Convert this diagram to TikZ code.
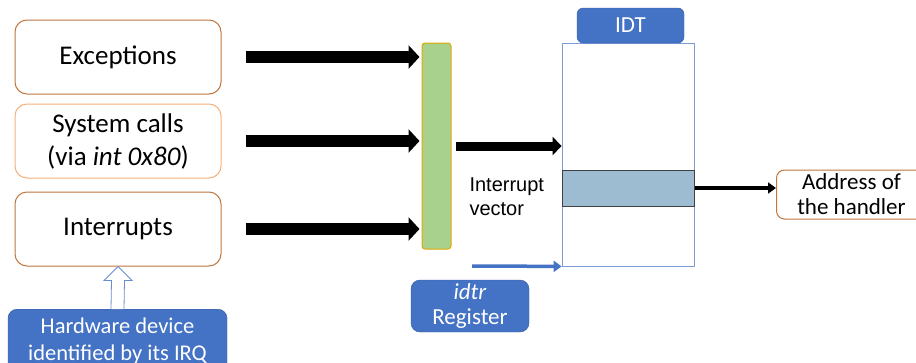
\documentclass[tikz,border=0pt]{standalone}
\usepackage{fontspec}
\setmainfont{Carlito}
\newfontfamily\arialfont{Liberation Sans}
\usetikzlibrary{arrows.meta,calc}

\definecolor{darkorange}{HTML}{C0763F}
\definecolor{lightorange}{HTML}{F6B07A}
\definecolor{boxblue}{HTML}{4472C4}
\definecolor{barfill}{HTML}{A9D18E}
\definecolor{bargold}{HTML}{E2A800}
\definecolor{rowfill}{HTML}{9DBBD1}

\tikzset{
  srcbox/.style={draw=darkorange, line width=1pt, rounded corners=12pt, fill=white,
    minimum width=206pt, minimum height=74pt, align=center, font=\fontsize{27}{33}\selectfont},
  bluebox/.style={draw=boxblue!80!black, fill=boxblue, text=white, rounded corners=9pt,
    align=center, inner sep=0pt},
  fatarrow/.style={line width=12pt, -{Triangle[length=11pt,width=23pt]}},
  midarrow/.style={line width=9pt, -{Triangle[length=9pt,width=18pt]}},
  thinarrow/.style={line width=3.5pt, -{Triangle[length=8pt,width=11pt]}}
}

\begin{document}
\begin{tikzpicture}[x=1pt,y=-1pt]
\useasboundingbox (0,0) rectangle (916,362);
\begin{scope}
\clip (0,0) rectangle (916,362);

% sources
\node[srcbox] (exc) at (118,57) {Exceptions};
\node[srcbox, draw=lightorange] (sys) at (118,141) {System calls\\(via \textit{int 0x80})};
\node[srcbox] (intr) at (118,229) {Interrupts};
\node[bluebox, minimum width=219pt, minimum height=64pt, font=\fontsize{22.5}{27}\selectfont,
  anchor=north] (hw) at (117.5,309) {Hardware device\\identified by its IRQ};

% green bar
\node[draw=bargold, fill=barfill, line width=1pt, rounded corners=3pt,
  minimum width=29pt, minimum height=206pt, inner sep=0pt] (bar) at (436.5,146) {};

% IDT table
\node[draw=boxblue!70, line width=0.8pt, minimum width=132pt, minimum height=223pt,
  inner sep=0pt] (idt) at (628,154.5) {};
\node[bluebox, rounded corners=6pt, minimum width=107pt, minimum height=35pt,
  font=\fontsize{23}{26}\selectfont] (idtlabel) at (630.5,25.5) {IDT};
\node[draw=black!75, fill=rowfill, line width=1pt, minimum width=132pt, minimum height=36pt,
  inner sep=0pt] (row) at (628,188) {};

\node[anchor=west, align=left, font=\arialfont\fontsize{20}{24}\selectfont] (vec) at (466,197) {Interrupt\\vector};

\node[draw=darkorange, line width=1pt, rounded corners=8pt, minimum width=150pt, minimum height=49pt,
  align=center, font=\fontsize{23}{25}\selectfont, inner sep=0pt, anchor=west] (addr) at (776,194.5) {Address of\\the handler};

\node[bluebox, minimum width=118pt, minimum height=52pt, font=\fontsize{23}{25}\selectfont] (idtr) at (470,306) {\textit{idtr}\\Register};

\coordinate (idtrin) at (472,266);

% connectors
\draw[fatarrow, shorten <=24pt, shorten >=2pt] (exc.east) -- (exc.east -| bar.west);
\draw[fatarrow, shorten <=24pt, shorten >=2pt] (sys.east) -- (sys.east -| bar.west);
\draw[fatarrow, shorten <=24pt, shorten >=2pt] (intr.east) -- (intr.east -| bar.west);
\draw[midarrow, shorten <=4pt] (bar.east) -- (bar.east -| idt.west);
\draw[thinarrow] (row.east) -- (row.east -| addr.west);
\draw[thinarrow, boxblue] (idtrin) -- (idt.south west);

% hollow arrow from the device
\draw[boxblue!80, line width=0.8pt, fill=white]
  ($(hw.north)+(-6.5,0)$) -- ($(intr.south)+(-6.5,14)$) -- ($(intr.south)+(-14,14)$) --
  (intr.south) -- ($(intr.south)+(14,14)$) -- ($(intr.south)+(6.5,14)$) --
  ($(hw.north)+(6.5,0)$);
\end{scope}
\end{tikzpicture}
\end{document}
